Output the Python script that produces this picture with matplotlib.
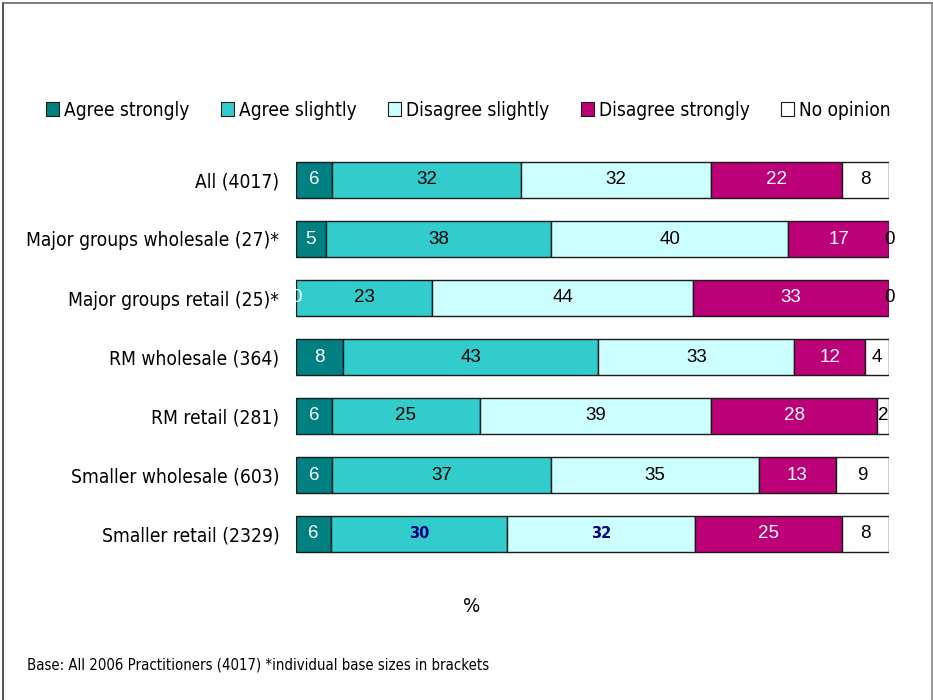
import numpy as np
import matplotlib.pyplot as plt
from matplotlib.lines import Line2D
from matplotlib.patches import Patch

categories = ["All (4017)", "Major groups wholesale (27)*", "Major groups retail (25)*",
              "RM wholesale (364)", "RM retail (281)", "Smaller wholesale (603)",
              "Smaller retail (2329)"]
series = ["Agree strongly", "Agree slightly", "Disagree slightly",
          "Disagree strongly", "No opinion"]

agree_strongly = [6, 5, 0, 8, 6, 6, 6]
agree_slightly = [32, 38, 23, 43, 25, 37, 30]
disagree_slightly = [32, 40, 44, 33, 39, 35, 32]
disagree_strongly = [22, 17, 33, 12, 28, 13, 25]
no_opinion = [8, 0, 0, 4, 2, 9, 8]

colors = ["#008080", "#33CCCC", "#CCFFFF", "#BC0078", "#FFFFFF"]
text_colors = ["white", "black", "black", "white", "black"]

label_font = dict(family="DejaVu Sans", stretch="condensed")

data = np.array([agree_strongly, agree_slightly, disagree_slightly,
                 disagree_strongly, no_opinion], dtype=float)
# each row is scaled to 100% like a percent-stacked bar
shares = data / data.sum(axis=0) * 100

fig = plt.figure(figsize=(9.33, 7.0), dpi=100)
ax = fig.add_axes([0.3173, 0.195, 0.6356, 0.59])

y = np.arange(len(categories))
left = np.zeros(len(categories))
for i, name in enumerate(series):
    ax.barh(y, shares[i], left=left, height=0.6, color=colors[i],
            edgecolor="#1a1a1a", linewidth=1.0, label=name)
    for j in range(len(categories)):
        cx = left[j] + shares[i][j] / 2
        val = int(data[i][j])
        if j == 6 and i in (1, 2):
            ax.text(cx, y[j], str(val), ha="center", va="center",
                    color="#000080", fontsize=10.5, fontweight="bold",
                    family="DejaVu Sans")
        else:
            ax.text(cx, y[j], str(val), ha="center", va="center",
                    color=text_colors[i], fontsize=13.5,
                    family="Liberation Sans")
    left += shares[i]

ax.set_xlim(0, 100)
ax.set_ylim(len(categories) - 0.5, -0.5)
ax.set_yticks(y)
ax.set_yticklabels(categories, fontsize=13.8, **label_font)
ax.tick_params(axis="y", length=0, pad=12)
ax.set_xticks([])
for s in ax.spines.values():
    s.set_visible(False)

handles = [Patch(facecolor=c, edgecolor="#1a1a1a", linewidth=0.8) for c in colors]
fig.legend(handles, series, loc="center", bbox_to_anchor=(0.502, 1 - 110 / 700),
           ncol=5, frameon=False, handlelength=0.7, handleheight=0.7,
           handletextpad=0.25, columnspacing=1.65,
           prop=dict(size=13.7, **label_font))

fig.text(472 / 933, 1 - 606 / 700, "%", ha="center", va="center",
         fontsize=14.5, **label_font)
fig.text(27 / 933, 1 - 665 / 700,
         "Base: All 2006 Practitioners (4017) *individual base sizes in brackets",
         ha="left", va="center", fontsize=10.7, **label_font)

# page frame
fig.add_artist(Line2D([3 / 933, 3 / 933], [0, 1 - 3 / 700], color="#333333", lw=1.2))
fig.add_artist(Line2D([3 / 933, 932 / 933], [1 - 3 / 700, 1 - 3 / 700], color="#666666", lw=1.2))
fig.add_artist(Line2D([932 / 933, 932 / 933], [0, 1 - 3 / 700], color="#888888", lw=1.2))

fig.savefig("out.png", dpi=100)
